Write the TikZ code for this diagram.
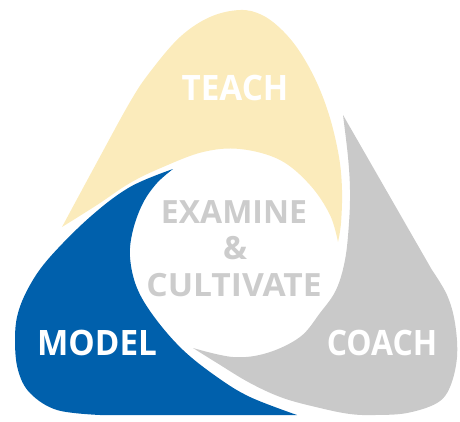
\documentclass[tikz,border=0pt]{standalone}
\usepackage{fontspec}
\setmainfont{Open Sans}
\definecolor{teachc}{HTML}{FBEBBB}
\definecolor{modelc}{HTML}{0060AC}
\definecolor{coachc}{HTML}{C9C9C9}
\definecolor{centc}{HTML}{CCCCCC}
\begin{document}
\begin{tikzpicture}[x=1pt,y=-1pt,
  lbl/.style={font=\fontsize{35}{35}\selectfont\bfseries, text=white, inner sep=0pt},
  clbl/.style={font=\fontsize{32}{32}\selectfont\bfseries, text=centc, inner sep=0pt},
  sm/.style={smooth,tension=0.6}]
\useasboundingbox (0,0) rectangle (460,421);
% TEACH (yellow)
\fill[teachc] plot[sm] coordinates {(62,227) (96,164) (130,102) (150,72) (180,37) (210,17) (240,10) (262,15) (282,30) (300,52) (317,83) (330,118) (339,157) (342,190) (341,223) (338,242)}
  -- plot[sm] coordinates {(338,242) (330,215) (310,185) (280,160) (240,149) (203,152) (163,167) (130,183) (97,205) (62,227)} -- cycle;
% MODEL (blue)
\fill[modelc] plot[sm] coordinates {(173,169) (130,187) (90,217) (50,257) (30,285) (18,313) (15,340) (18,370) (30,393) (57,410) (100,415)}
  -- plot[sm] coordinates {(297,415) (250,397) (217,377) (183,350) (155,318) (137,288) (130,257) (133,230) (143,203) (157,183) (173,169)} -- cycle;
% COACH (gray)
\fill[coachc] (343,115) -- plot[sm] coordinates {(432,270) (447,295) (455,323) (457,357) (450,387) (437,403) (407,413) (375,415) (350,414) (320,408) (283,398) (250,383) (217,363) (193,348)}
  -- plot[sm] coordinates {(193,348) (233,357) (267,353) (300,337) (320,313) (336,290) (345,260) (349,223) (350,190) (348,157) (343,115)} -- cycle;
% labels
\node[lbl] (teach) at (235,88) {\scalebox{0.95}[1]{TEACH}};
\node[lbl] (model) at (97,343) {\scalebox{0.95}[1]{MODEL}};
\node[lbl] (coach) at (382,343) {\scalebox{0.91}[1]{COACH}};
\node[clbl] (exam) at (234,212) {EXAMINE};
\node[clbl] (amp) at (235,248) {\&};
\node[clbl] (cult) at (234,285) {\scalebox{1.05}[1]{CULTIVATE}};
\end{tikzpicture}
\end{document}
